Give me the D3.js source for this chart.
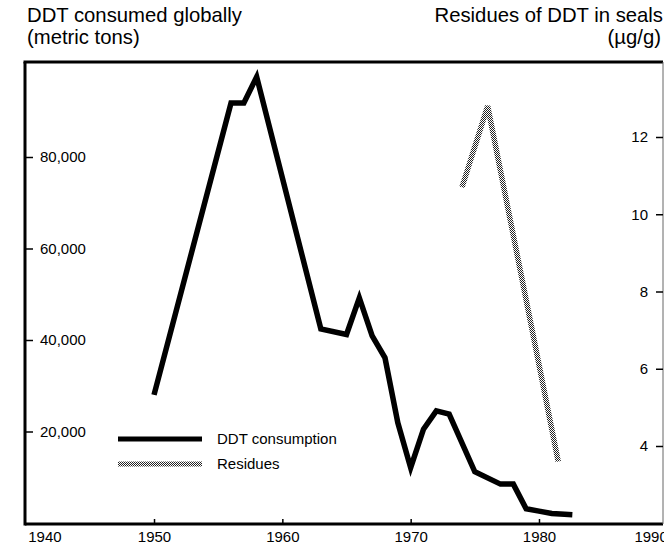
<!DOCTYPE html>
<html lang="en">
    <head>
        <meta charset="utf-8">
        <title>DDT consumption and residues</title>
        <script src="https://d3js.org/d3.v7.min.js"></script>
        <style>
            body { margin: 0; background: #fff; }
            svg#main_g { font-family: "Liberation Sans", Arial, Helvetica, sans-serif; }
            .axis text { font-size: 15px; fill: #000; }
            .axis line { stroke: #000; stroke-width: 1.5; }
        </style>
    </head>
    <body>
        <svg id="main_g" width="664" height="544"></svg>
        <script type="text/javascript">
            // DDT consumed globally (metric tons), by year
            let ddt_years  = [1950, 1956, 1957, 1958, 1963, 1965, 1966, 1967, 1968, 1969, 1970, 1971, 1972, 1973, 1975, 1977, 1978, 1979, 1980, 1981, 1982, 1982.6];
            let ddt_tons   = [28000, 91800, 91800, 97500, 42400, 41200, 49200, 40900, 36100, 21900, 12100, 20500, 24500, 23800, 11200, 8500, 8500, 3100, 2600, 2100, 1900, 1800];

            // residues of DDT in seals (ug/g)
            let res_years  = [1974, 1976, 1981.5];
            let res_values = [10.7, 12.8, 3.6];

            let year_ticks = [1940, 1950, 1960, 1970, 1980, 1990];
            let ton_ticks  = [20000, 40000, 60000, 80000];
            let res_ticks  = [4, 6, 8, 10, 12];

            let legend_items = ["DDT consumption", "Residues"];

            var svg = d3.select('#main_g');

            // plot frame
            const fr = {left: 25, right: 663, top: 62, bottom: 524};

            let x = d3.scaleLinear().domain([1940, 1990]).range([25.7, 667.3]);
            let y = d3.scaleLinear().domain([0, 80000]).range([523, 157]);
            let yr = d3.scaleLinear().domain([4, 12]).range([446, 137]);

            // hatched grey pattern for the residues line
            let defs = svg.append("defs");
            let pat = defs.append("pattern").attr("id", "checker")
                .attr("patternUnits", "userSpaceOnUse")
                .attr("width", 2).attr("height", 2);
            pat.append("rect").attr("width", 2).attr("height", 2).attr("fill", "#fff");
            pat.append("rect").attr("width", 1).attr("height", 1).attr("fill", "#222");
            pat.append("rect").attr("x", 1).attr("y", 1).attr("width", 1).attr("height", 1).attr("fill", "#222");

            // titles
            svg.append("text").attr("x", 27).attr("y", 22).attr("font-size", 20.3).text("DDT consumed globally");
            svg.append("text").attr("x", 27).attr("y", 44).attr("font-size", 20.3).text("(metric tons)");
            svg.append("text").attr("x", 663).attr("y", 22).attr("font-size", 20.3).attr("text-anchor", "end").text("Residues of DDT in seals");
            svg.append("text").attr("x", 661).attr("y", 44).attr("font-size", 20.3).attr("text-anchor", "end").text("(\u00b5g/g)");

            // frame lines
            let frame = svg.append("g").attr("id", "frame");
            frame.append("line").attr("x1", fr.left - 1.5).attr("x2", fr.right).attr("y1", fr.top).attr("y2", fr.top)
                .attr("stroke", "#000").attr("stroke-width", 3);
            frame.append("line").attr("x1", fr.left).attr("x2", fr.left).attr("y1", fr.top).attr("y2", fr.bottom + 1.5)
                .attr("stroke", "#000").attr("stroke-width", 3);
            frame.append("line").attr("x1", fr.left).attr("x2", fr.right).attr("y1", fr.bottom).attr("y2", fr.bottom)
                .attr("stroke", "#000").attr("stroke-width", 3);
            frame.append("line").attr("x1", fr.right).attr("x2", fr.right).attr("y1", fr.top).attr("y2", fr.bottom)
                .attr("stroke", "#666").attr("stroke-width", 1);

            // left axis: ticks and labels inside the frame
            let yAxis = d3.axisRight(y).tickValues(ton_ticks).tickSize(8).tickPadding(7).tickFormat(d3.format(","));
            svg.append("g").attr("class", "axis").attr("transform", "translate(" + fr.left + ",0)")
                .call(yAxis).call(g => g.select(".domain").remove());

            // right axis
            let yrAxis = d3.axisLeft(yr).tickValues(res_ticks).tickSize(7).tickPadding(8);
            svg.append("g").attr("class", "axis").attr("transform", "translate(" + fr.right + ",0)")
                .call(yrAxis).call(g => g.select(".domain").remove());

            // bottom axis: small ticks pointing up, labels below
            let xAxis = d3.axisBottom(x).tickValues(year_ticks).tickSizeInner(-5).tickSizeOuter(0).tickPadding(7).tickFormat(d3.format("d"));
            let xg = svg.append("g").attr("class", "axis").attr("transform", "translate(0," + fr.bottom + ")")
                .call(xAxis).call(g => g.select(".domain").remove());
            xg.selectAll(".tick").filter(d => d == 1940).select("text").attr("text-anchor", "start").attr("x", 2);
            xg.selectAll(".tick").filter(d => d == 1990).select("text").attr("text-anchor", "end");
            xg.selectAll(".tick").filter(d => d == 1940 || d == 1990).select("line").remove();

            // data lines
            let ddt_data = ddt_years.map((yy, i) => ({year: yy, value: ddt_tons[i]}));
            let res_data = res_years.map((yy, i) => ({year: yy, value: res_values[i]}));

            let ddtLine = d3.line().x(d => x(d.year)).y(d => y(d.value));
            let resLine = d3.line().x(d => x(d.year)).y(d => yr(d.value));

            svg.append("path").datum(res_data)
                .attr("d", resLine)
                .attr("fill", "none")
                .attr("stroke", "url(#checker)")
                .attr("stroke-width", 5.5)
                .attr("stroke-linejoin", "miter");

            svg.append("path").datum(ddt_data)
                .attr("d", ddtLine)
                .attr("fill", "none")
                .attr("stroke", "#000")
                .attr("stroke-width", 5.5)
                .attr("stroke-linejoin", "miter")
                .attr("stroke-miterlimit", 6);

            // legend
            let legend = svg.append("g").attr("id", "legend").attr("transform", "translate(118,439)");
            let items = legend.selectAll("g.item").data(legend_items).enter()
                .append("g").attr("class", "item")
                .attr("transform", (d, i) => "translate(0," + (i * 25) + ")");
            items.append("line").attr("x1", 0).attr("x2", 84).attr("y1", 0).attr("y2", 0)
                .attr("stroke", (d, i) => i == 0 ? "#000" : "url(#checker)")
                .attr("stroke-width", (d, i) => i == 0 ? 5 : 5);
            items.append("text").attr("x", 99).attr("y", 0).attr("dy", "0.35em")
                .attr("font-size", 15).text(d => d);
        </script>
    </body>
</html>
